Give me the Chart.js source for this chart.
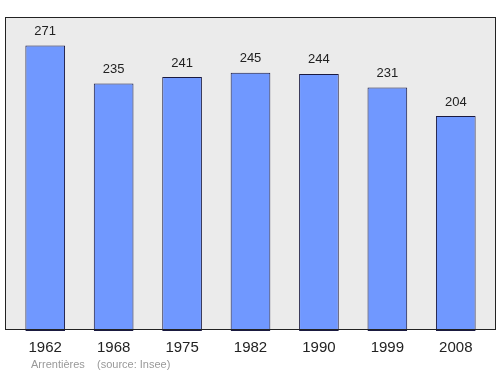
<!DOCTYPE html>
<html>
<head>
<meta charset="utf-8">
<script src="https://cdn.jsdelivr.net/npm/chart.js@4"></script>
<style>
  html, body { margin: 0; padding: 0; background: #fff; }
  #wrap { width: 500px; height: 374px; position: relative; }
</style>
</head>
<body>
<div id="wrap"><canvas id="myChart" width="500" height="374"></canvas></div>
<script>
var years = ['1962', '1968', '1975', '1982', '1990', '1999', '2008'];
var population = [271, 235, 241, 245, 244, 231, 204];
var footerText = 'Arrentières    (source: Insee)';

// grey frame behind the bars, value labels and the footer
var framePlugin = {
    id: 'frame',
    beforeDatasetsDraw: function (chart) {
        var c = chart.ctx;
        c.save();
        c.fillStyle = '#ebebeb';
        c.fillRect(5, 17, 491, 313);
        c.restore();
    },
    afterDatasetsDraw: function (chart) {
        var c = chart.ctx;
        c.save();
        c.strokeStyle = '#222';
        c.lineWidth = 1;
        c.strokeRect(5.5, 17.5, 490, 312);
        c.font = '13px "Liberation Sans", Arial, sans-serif';
        c.fillStyle = '#222';
        c.textAlign = 'center';
        c.textBaseline = 'middle';
        var meta = chart.getDatasetMeta(0);
        meta.data.forEach(function (bar, i) {
            c.fillText(population[i], bar.x, bar.y - 14);
        });
        c.font = '11px "Liberation Sans", Arial, sans-serif';
        c.fillStyle = '#999';
        c.textAlign = 'left';
        c.fillText(footerText, 31, 365);
        c.restore();
    }
};

var ctx = document.getElementById('myChart').getContext('2d');
var myChart = new Chart(ctx, {
    type: 'bar',
    data: {
        labels: years,
        datasets: [{
            data: population,
            backgroundColor: '#7098ff',
            borderColor: '#1a1a40',
            borderWidth: 1,
            borderSkipped: false,
            barPercentage: 0.58,
            categoryPercentage: 1.0
        }]
    },
    options: {
        responsive: false,
        animation: false,
        layout: { padding: { left: 11, right: 10, top: 17, bottom: 17 } },
        plugins: { legend: { display: false }, tooltip: { enabled: false } },
        scales: {
            y: { display: false, min: 0, max: 298 },
            x: {
                grid: { display: false },
                border: { display: false },
                ticks: {
                    color: '#222',
                    padding: 0,
                    font: { size: 15, family: '"Liberation Sans", Arial, sans-serif' }
                }
            }
        }
    },
    plugins: [framePlugin]
});
</script>
</body>
</html>
